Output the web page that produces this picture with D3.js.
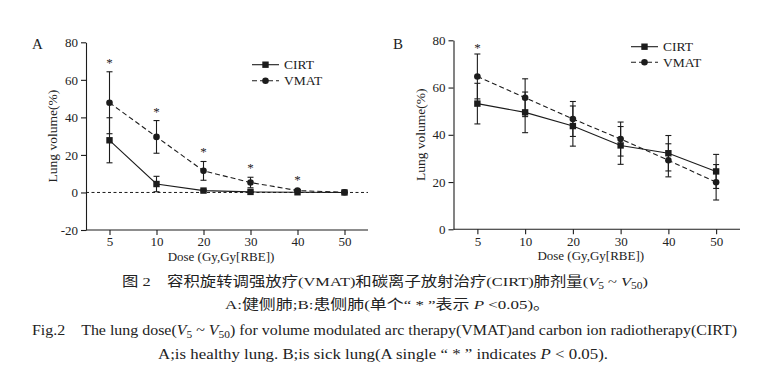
<!DOCTYPE html>
<html>
<head>
<meta charset="utf-8">
<script src="https://cdn.jsdelivr.net/npm/d3@7"></script>
<style>
  body { margin: 0; background: #fff; }
  svg { display: block; }
  text { fill: #222; }
</style>
</head>
<body>
<div id="chart"></div>
<script>
'use strict';

// dose levels (categorical x axis)
const doses = ['5', '10', '20', '30', '40', '50'];

// A: healthy lung, mean and SD
const healthyCIRT = [27.8, 4.5, 1.0, 0.3, 0.1, 0.0];
const healthyCIRTsd = [12.0, 4.1, 0.6, 0.3, 0.1, 0.0];
const healthyVMAT = [47.8, 29.6, 11.5, 5.3, 1.0, 0.1];
const healthyVMATsd = [16.5, 8.7, 5.0, 2.8, 0.6, 0.1];
const healthySig = [true, true, true, true, true, false];

// B: sick lung, mean and SD
const sickCIRT = [53.2, 49.5, 43.7, 35.5, 32.2, 24.5];
const sickCIRTsd = [8.6, 8.6, 8.5, 8.0, 7.5, 7.2];
const sickVMAT = [64.7, 55.7, 46.7, 38.2, 29.2, 19.9];
const sickVMATsd = [9.5, 8.0, 7.4, 7.2, 7.0, 7.5];
const sickSig = [true, false, false, false, false, false];

const yTicksA = [-20, 0, 20, 40, 60, 80];
const yTicksB = [0, 20, 40, 60, 80];

const seriesNames = ['CIRT', 'VMAT'];

const W = 778, H = 390;
const ink = '#1c1c1c';
const serif = '"Liberation Serif", "Times New Roman", serif';

const svg = d3.select('#chart').append('svg')
    .attr('width', W).attr('height', H)
    .style('font-family', serif);

function panel(opts) {
    const x = d3.scalePoint().domain(doses).range([opts.left, opts.right]).padding(0.5);
    const y = d3.scaleLinear().domain(opts.yDomain).range([opts.bottom, opts.top]);
    const g = svg.append('g');

    // y axis (plain hyphen for negatives, like the original)
    const ya = g.append('g').attr('transform', `translate(${opts.left},0)`)
        .call(d3.axisLeft(y).tickValues(opts.yTicks).tickFormat(d => String(d))
            .tickSize(5).tickPadding(3).tickSizeOuter(0));
    // x axis
    const xa = g.append('g').attr('transform', `translate(0,${opts.bottom})`)
        .call(d3.axisBottom(x).tickSize(5).tickPadding(2).tickSizeOuter(0));
    [ya, xa].forEach(a => {
        a.select('.domain').attr('stroke', ink).attr('stroke-width', 1.1);
        a.selectAll('.tick line').attr('stroke', ink).attr('stroke-width', 1.1);
        a.selectAll('.tick text').attr('fill', '#222')
            .style('font-family', serif).style('font-size', '13px');
    });
    xa.select('.domain').attr('d', `M${opts.left},0H${opts.right}`);

    if (opts.zeroLine) {
        g.append('line')
            .attr('x1', opts.left).attr('x2', opts.right)
            .attr('y1', y(0)).attr('y2', y(0))
            .attr('stroke', ink).attr('stroke-width', 1)
            .attr('stroke-dasharray', '3,2.5');
    }

    // axis titles
    g.append('text')
        .attr('x', (opts.left + opts.right) / 2 - 6).attr('y', opts.bottom + 31)
        .attr('text-anchor', 'middle').style('font-size', '13px')
        .text('Dose (Gy,Gy[RBE])');
    g.append('text')
        .attr('transform', `translate(${opts.left - 29},${(opts.top + opts.bottom) / 2}) rotate(-90)`)
        .attr('text-anchor', 'middle').style('font-size', '13.5px')
        .text('Lung volume(%)');

    // panel letter
    g.append('text').attr('x', opts.letterX).attr('y', opts.letterY)
        .style('font-size', '15px').text(opts.letter);

    const series = [
        { name: 'CIRT', mean: opts.cirt, sd: opts.cirtSd, dash: null, shape: 'square' },
        { name: 'VMAT', mean: opts.vmat, sd: opts.vmatSd, dash: '5,3', shape: 'circle' }
    ];

    const line = d3.line().x((d, i) => x(doses[i])).y(d => y(d));

    series.forEach(s => {
        const sg = g.append('g');
        // error bars with caps
        s.mean.forEach((m, i) => {
            const sd = s.sd[i];
            if (sd < 0.3) return;
            const cx = x(doses[i]);
            const y1 = y(m + sd), y2 = y(m - sd);
            sg.append('line').attr('x1', cx).attr('x2', cx).attr('y1', y1).attr('y2', y2)
                .attr('stroke', ink).attr('stroke-width', 1.1);
            [y1, y2].forEach(yy => sg.append('line')
                .attr('x1', cx - 3).attr('x2', cx + 3).attr('y1', yy).attr('y2', yy)
                .attr('stroke', ink).attr('stroke-width', 1.1));
        });
        sg.append('path').datum(s.mean).attr('d', line)
            .attr('fill', 'none').attr('stroke', ink).attr('stroke-width', 1.1)
            .attr('stroke-dasharray', s.dash);
        drawMarkers(sg, s.shape, s.mean.map((m, i) => [x(doses[i]), y(m)]));
    });

    // significance stars
    opts.sig.forEach((on, i) => {
        if (!on) return;
        const top = Math.max(opts.cirt[i] + opts.cirtSd[i], opts.vmat[i] + opts.vmatSd[i]);
        g.append('text').attr('x', x(doses[i])).attr('y', y(top) - opts.starGap + 7)
            .attr('text-anchor', 'middle').style('font-size', '13px').text('*');
    });

    // legend
    series.forEach((s, k) => {
        const ly = opts.legendY + k * opts.legendStep;
        g.append('line').attr('x1', opts.legendX).attr('x2', opts.legendX + 27)
            .attr('y1', ly).attr('y2', ly)
            .attr('stroke', ink).attr('stroke-width', 1.1).attr('stroke-dasharray', s.dash);
        drawMarkers(g, s.shape, [[opts.legendX + 13.5, ly]]);
        g.append('text').attr('x', opts.legendX + 32).attr('y', ly + 4.5)
            .style('font-size', '13.5px').text(seriesNames[k]);
    });
}

function drawMarkers(sel, shape, pts) {
    if (shape === 'square') {
        sel.selectAll(null).data(pts).enter().append('rect')
            .attr('x', d => d[0] - 3.2).attr('y', d => d[1] - 3.2)
            .attr('width', 6.4).attr('height', 6.4).attr('fill', ink);
    } else {
        sel.selectAll(null).data(pts).enter().append('circle')
            .attr('cx', d => d[0]).attr('cy', d => d[1]).attr('r', 3.3).attr('fill', ink);
    }
}

panel({
    left: 86, right: 368, top: 42.3, bottom: 230,
    yDomain: [-20, 80], yTicks: yTicksA, zeroLine: true,
    cirt: healthyCIRT, cirtSd: healthyCIRTsd, vmat: healthyVMAT, vmatSd: healthyVMATsd,
    sig: healthySig, starGap: 12,
    letter: 'A', letterX: 32, letterY: 49,
    legendX: 252, legendY: 64.7, legendStep: 16
});

panel({
    left: 453.5, right: 740, top: 40.3, bottom: 229.3,
    yDomain: [0, 80], yTicks: yTicksB, zeroLine: false,
    cirt: sickCIRT, cirtSd: sickCIRTsd, vmat: sickVMAT, vmatSd: sickVMATsd,
    sig: sickSig, starGap: 9,
    letter: 'B', letterX: 393, letterY: 49,
    legendX: 631, legendY: 46.7, legendStep: 15.5
});

// caption
const cap = svg.append('g').style('font-family', '"Liberation Serif", "Noto Sans CJK SC", serif');

function capLine(x0, x1, yb, size, parts) {
    const t = cap.append('text').attr('x', x0).attr('y', yb)
        .style('font-size', size + 'px')
        .attr('textLength', x1 - x0).attr('lengthAdjust', 'spacingAndGlyphs');
    parts.forEach(p => {
        const ts = t.append('tspan').text(p.t);
        if (p.i) ts.style('font-style', 'italic');
        if (p.sub) ts.style('font-size', (size - 4) + 'px').attr('dy', 3);
        if (p.up) ts.attr('dy', -3);
    });
}

capLine(122, 648, 286, 13.5, [
    { t: '图 2　容积旋转调强放疗(VMAT)和碳离子放射治疗(CIRT)肺剂量(' },
    { t: 'V', i: true }, { t: '5', sub: true }, { t: ' ~ ', up: true },
    { t: 'V', i: true }, { t: '50', sub: true }, { t: ')', up: true }
]);
capLine(225, 550, 309, 13.5, [
    { t: 'A:健侧肺;B:患侧肺(单个“ * ”表示 ' }, { t: 'P', i: true }, { t: ' <0.05)。' }
]);
capLine(32, 737, 335, 14, [
    { t: 'Fig.2　The lung dose(' },
    { t: 'V', i: true }, { t: '5', sub: true }, { t: ' ~ ', up: true },
    { t: 'V', i: true }, { t: '50', sub: true },
    { t: ') for volume modulated arc therapy(VMAT)and carbon ion radiotherapy(CIRT)', up: true }
]);
capLine(158, 608, 359, 14, [
    { t: 'A;is healthy lung. B;is sick lung(A single “ * ” indicates ' },
    { t: 'P', i: true }, { t: ' < 0.05).' }
]);
</script>
</body>
</html>
